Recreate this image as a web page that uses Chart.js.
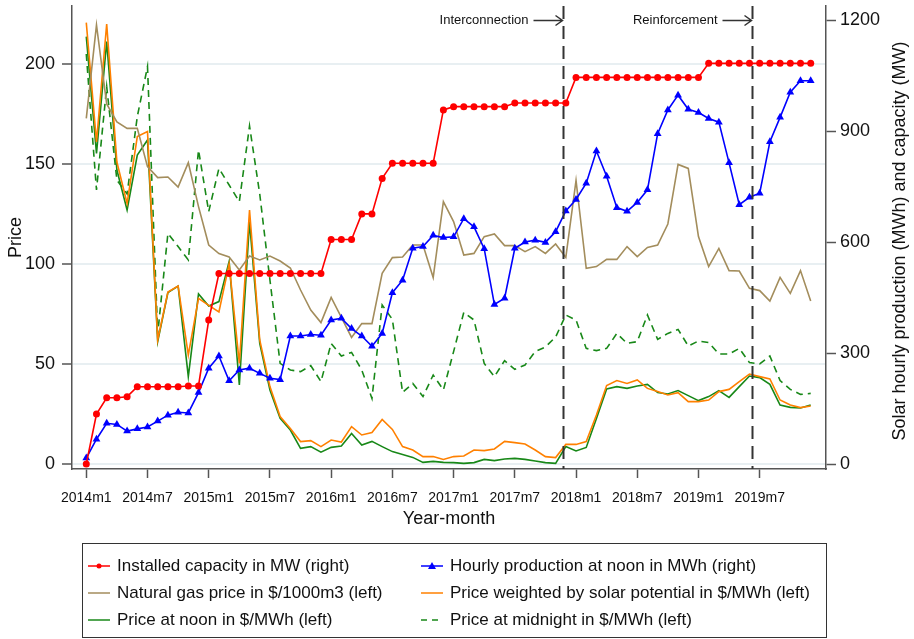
<!DOCTYPE html>
<html>
<head>
<meta charset="utf-8">
<script src="https://cdn.jsdelivr.net/npm/chart.js@4"></script>
<style>
html, body { margin: 0; padding: 0; background: #fff; }
</style>
</head>
<body>
<canvas id="chart" width="914" height="639"></canvas>
<script>
// Monthly series, 2014m1 .. 2019m12 (72 months)
var capacity = [0,135,179,179,182,209,209,209,209,209,211,211,
  389,515,515,515,515,515,515,515,515,515,515,515,
  607,607,607,676,676,772,813,813,813,813,813,957,
  966,966,966,966,966,966,976,976,976,976,976,976,
  1045,1045,1045,1045,1045,1045,1045,1045,1045,1045,1045,1045,
  1045,1083,1083,1083,1083,1083,1083,1083,1083,1083,1083,1083];
var production = [16,67,110,107,89,95,100,116,132,140,138,193,
  259,292,225,254,259,245,232,228,346,346,350,348,
  389,394,366,346,318,353,463,497,583,588,618,612,
  614,663,641,582,431,448,583,600,605,599,628,684,
  715,759,846,778,693,683,707,741,893,957,997,959,
  950,934,924,814,701,721,732,871,937,1005,1036,1036];
var gasPrice = [172.8,219.5,180,171,167.8,167.8,148.7,143.2,143.5,138.5,150.7,128.7,
  109.5,105.2,103.5,97,104,102,104,101.5,98,87,77,70.7,
  83.3,73.3,63.3,70.2,70.2,95.3,103.2,103.5,109.5,109.5,93.2,131.2,
  121.2,104.5,105.3,113.7,115,109.2,109.2,106.2,108.7,105.3,110,103.3,
  141.8,97.8,98.7,102.3,102.3,108.7,103.7,108.3,109.5,120,149.8,147.8,
  113.7,98.7,107.8,96.7,96.5,87.8,86.7,81.5,93.3,85.3,96.7,81.5];
var weightedPrice = [220.7,161,220,151,130.3,163.7,166.2,62,86,89,54.5,82.8,
  79.3,76,100,50.3,127,62,38.7,23.7,17.8,11.2,11.7,8.7,
  12,11,18.7,14.5,15.7,22.3,17.3,8.7,7,3.7,3.7,2.3,
  3.7,4,7,6.7,7.5,11.3,10.7,10,7,3.7,3.2,9.8,
  9.8,11.2,24.5,39.2,41.7,40.3,42,37.8,36.2,34.5,35.7,31.2,
  31.2,32,36.2,37.3,41.2,45,43.7,42.5,32,29.5,28.2,29];
var noonPrice = [213.7,155.3,211.2,147,127,154.5,162,61.2,85.7,89,43.7,85,
  79,81.2,101.2,39.5,121.2,60.3,37,22.8,17,7.8,8.7,5.9,
  8.3,9,15.3,9.5,11.3,8.7,6.2,4.8,3.3,0.8,1.3,0.8,
  0.7,0.3,0.7,2.3,1.7,2.5,2.8,2.3,1.5,0.7,0.3,8.7,
  6.5,8.3,22.8,37.5,38.7,37.8,39,39.8,35.7,35,36.7,34.2,
  31.7,33.7,36.7,33.3,38.7,44,43.2,39.8,29.5,28.3,28,29.5];
var midnightPrice = [205,137,188.7,142,135,173.7,198.7,65,115.3,108.7,102,157,
  126.2,147.8,139.5,131.2,169,135,92,50.3,47,46.2,49.2,41.2,
  60.3,54,55.8,47,32.8,79.5,72.3,35.8,40.3,33.7,44.5,37,
  56.2,75.8,72,50.3,43.7,51.7,47.3,49.5,56.2,58.5,63.5,74.5,
  72,57.8,56.7,57.8,65.3,60.3,61.2,74.5,62.3,65.3,67.3,59,
  61.5,60.7,55,55,57.8,50.7,50,54,41.7,37.3,34.8,35.3];

// axis ticks (month index from 2014m1) and events
var monthTicks = [0,6,12,18,24,30,36,42,48,54,60,66];
var priceTicks = [0,50,100,150,200];
var solarTicks = [0,300,600,900,1200];
var eventLabels = ['Interconnection', 'Reinforcement'];
var eventMonths = [46.75, 65.25];

var FONT = "'Liberation Sans', Arial, sans-serif";
Chart.defaults.font.family = FONT;
Chart.defaults.color = '#111';

function pts(arr) {
  return arr.map(function (v, i) { return { x: i, y: v }; });
}

function monthLabel(v) {
  return (2014 + Math.floor(v / 12)) + 'm' + (v % 12 + 1);
}

function noPad(s) {
  s.paddingTop = 0; s.paddingBottom = 0; s.paddingLeft = 0; s.paddingRight = 0;
}

var green = 'rgb(24,136,24)';

// dashed event lines, legend box and right axis title
var extras = {
  id: 'extras',
  afterDatasetsDraw: function (chart) {
    var ctx = chart.ctx, xs = chart.scales.x, area = chart.chartArea;
    ctx.save();
    eventMonths.forEach(function (m, k) {
      var px = Math.round(xs.getPixelForValue(m)) + 0.5;
      ctx.strokeStyle = '#333';
      ctx.lineWidth = 2;
      ctx.setLineDash([13, 7]);
      ctx.beginPath();
      ctx.moveTo(px, area.top);
      ctx.lineTo(px, area.bottom);
      ctx.stroke();
      ctx.setLineDash([]);
      var y = 20.5;
      ctx.lineWidth = 1.5;
      ctx.beginPath();
      ctx.moveTo(px - 30, y);
      ctx.lineTo(px - 1, y);
      ctx.moveTo(px - 8, y - 5);
      ctx.lineTo(px - 1, y);
      ctx.lineTo(px - 8, y + 5);
      ctx.stroke();
      ctx.fillStyle = '#111';
      ctx.font = '13px ' + FONT;
      ctx.textAlign = 'right';
      ctx.textBaseline = 'middle';
      ctx.fillText(eventLabels[k], px - 35, y);
    });
    ctx.restore();
  },
  afterDraw: function (chart) {
    var ctx = chart.ctx;
    ctx.save();
    // right axis title, reading bottom to top
    ctx.translate(900, 241);
    ctx.rotate(-Math.PI / 2);
    ctx.fillStyle = '#111';
    ctx.font = '18px ' + FONT;
    ctx.textAlign = 'center';
    ctx.textBaseline = 'middle';
    ctx.fillText('Solar hourly production (MWh) and capacity (MW)', 0, 0);
    ctx.setTransform(1, 0, 0, 1, 0, 0);

    // legend
    ctx.strokeStyle = '#333';
    ctx.lineWidth = 1;
    ctx.strokeRect(82.5, 543.5, 744, 94);
    chart.data.datasets.forEach(function (ds, i) {
      var x0 = (i % 2) ? 421 : 88;
      var y = 566 + Math.floor(i / 2) * 27;
      ctx.strokeStyle = ds.borderColor;
      ctx.lineWidth = 1.5;
      ctx.setLineDash(ds.borderDash ? [6, 5] : []);
      ctx.beginPath();
      ctx.moveTo(x0, y);
      ctx.lineTo(x0 + 22, y);
      ctx.stroke();
      ctx.setLineDash([]);
      ctx.fillStyle = ds.borderColor;
      if (ds.pointStyle === 'circle') {
        ctx.beginPath();
        ctx.arc(x0 + 11, y, 2.5, 0, Math.PI * 2);
        ctx.fill();
      } else if (ds.pointStyle === 'triangle') {
        ctx.beginPath();
        ctx.moveTo(x0 + 11, y - 4);
        ctx.lineTo(x0 + 15, y + 3);
        ctx.lineTo(x0 + 7, y + 3);
        ctx.closePath();
        ctx.fill();
      }
      ctx.fillStyle = '#111';
      ctx.font = '17px ' + FONT;
      ctx.textAlign = 'left';
      ctx.textBaseline = 'middle';
      ctx.fillText(ds.label, x0 + 29, y);
    });
    ctx.restore();
  }
};

new Chart(document.getElementById('chart').getContext('2d'), {
  type: 'line',
  data: {
    datasets: [{
      label: 'Installed capacity in MW (right)',
      data: pts(capacity),
      yAxisID: 'y1',
      borderColor: '#ff0000',
      backgroundColor: '#ff0000',
      borderWidth: 1.6,
      pointStyle: 'circle',
      pointRadius: 3.5,
      pointBorderWidth: 0
    }, {
      label: 'Hourly production at noon in MWh (right)',
      data: pts(production),
      yAxisID: 'y1',
      borderColor: '#0000ff',
      backgroundColor: '#0000ff',
      borderWidth: 1.6,
      pointStyle: 'triangle',
      pointRadius: 4.5,
      pointBorderWidth: 0
    }, {
      label: 'Natural gas price in $/1000m3 (left)',
      data: pts(gasPrice),
      yAxisID: 'y',
      borderColor: '#a38d5c',
      borderWidth: 1.6,
      pointRadius: 0
    }, {
      label: 'Price weighted by solar potential in $/MWh (left)',
      data: pts(weightedPrice),
      yAxisID: 'y',
      borderColor: '#ff8000',
      borderWidth: 1.6,
      pointRadius: 0
    }, {
      label: 'Price at noon in $/MWh (left)',
      data: pts(noonPrice),
      yAxisID: 'y',
      borderColor: green,
      borderWidth: 1.6,
      pointRadius: 0
    }, {
      label: 'Price at midnight in $/MWh (left)',
      data: pts(midnightPrice),
      yAxisID: 'y',
      borderColor: green,
      borderWidth: 1.6,
      borderDash: [7, 5],
      pointRadius: 0
    }]
  },
  options: {
    responsive: false,
    animation: false,
    devicePixelRatio: 1,
    layout: { padding: { top: 6, bottom: 109, left: 0, right: 0 } },
    plugins: { legend: { display: false }, tooltip: { enabled: false } },
    scales: {
      x: {
        type: 'linear',
        min: -1.4,
        max: 72.5,
        afterBuildTicks: function (s) { s.ticks = monthTicks.map(function (v) { return { value: v }; }); },
        afterFit: function (s) { s.height = 61; noPad(s); },
        border: { color: '#555', width: 1.5 },
        grid: { drawOnChartArea: false, tickLength: 9, tickColor: '#555', tickWidth: 1.5 },
        ticks: { font: { size: 14 }, color: '#111', padding: 12, maxRotation: 0, autoSkip: false,
          callback: function (v) { return monthLabel(v); } },
        title: { display: true, text: 'Year-month', font: { size: 18 }, color: '#111', padding: 0 }
      },
      y: {
        position: 'left',
        min: -2.5,
        max: 229,
        afterBuildTicks: function (s) { s.ticks = priceTicks.map(function (v) { return { value: v }; }); },
        afterFit: function (s) { s.width = 72; noPad(s); },
        border: { color: '#555', width: 1.5 },
        grid: { color: '#e8eff2', lineWidth: 2, tickColor: '#555', tickWidth: 1.5, tickLength: 10 },
        ticks: { font: { size: 18 }, color: '#111', padding: 7 },
        title: { display: true, text: 'Price', font: { size: 18 }, color: '#111', padding: { top: 5, bottom: 0 } }
      },
      y1: {
        position: 'right',
        min: -13.5,
        max: 1238,
        afterBuildTicks: function (s) { s.ticks = solarTicks.map(function (v) { return { value: v }; }); },
        afterFit: function (s) { s.width = 88; noPad(s); },
        border: { color: '#555', width: 1.5 },
        grid: { drawOnChartArea: false, tickColor: '#555', tickWidth: 1.5, tickLength: 10 },
        ticks: { font: { size: 18 }, color: '#111', padding: 4,
          callback: function (v) { return String(v); } }
      }
    }
  },
  plugins: [extras]
});
</script>
</body>
</html>
